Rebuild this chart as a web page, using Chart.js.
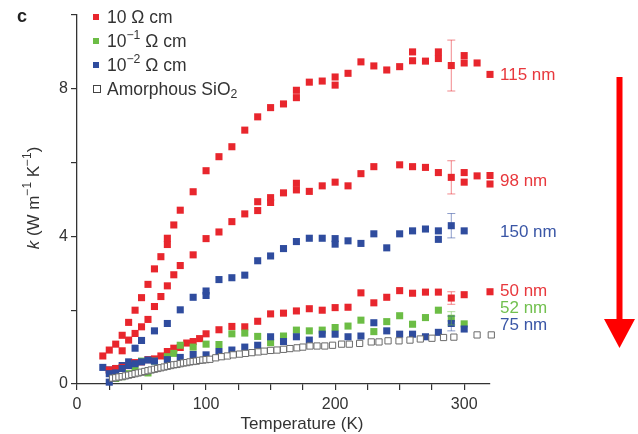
<!DOCTYPE html>
<html>
<head>
<meta charset="utf-8">
<script src="https://cdn.jsdelivr.net/npm/chart.js@4.4.0/dist/chart.umd.min.js"></script>
<style>
  html, body { margin: 0; background: #fff; }
</style>
</head>
<body>
<canvas id="chart" width="638" height="434"></canvas>
<script>
// thermal conductivity vs temperature, one array pair per sample
const temps115 = [20, 25, 30, 35, 40, 45, 50, 55, 60, 65, 70, 70, 75, 80, 90, 100, 110, 120, 130, 140, 150, 160, 170, 170, 180, 190, 200, 200, 210, 220, 230, 240, 250, 260, 260, 270, 280, 280, 290, 300, 300, 310, 320];
const k115 = [0.76, 0.92, 1.08, 1.32, 1.67, 2.0, 2.34, 2.7, 3.12, 3.45, 3.78, 3.95, 4.31, 4.71, 5.21, 5.78, 6.16, 6.43, 6.88, 7.24, 7.49, 7.59, 7.76, 7.96, 8.18, 8.21, 8.1, 8.32, 8.42, 8.73, 8.62, 8.51, 8.6, 8.76, 9.0, 8.75, 8.82, 9.0, 8.63, 8.7, 8.9, 8.7, 8.39];

const temps98 = [35, 40, 45, 50, 55, 60, 65, 70, 75, 80, 90, 100, 110, 120, 130, 140, 140, 150, 150, 160, 170, 170, 180, 190, 200, 210, 220, 230, 250, 260, 270, 280, 290, 300, 300, 310, 320, 320];
const k98 = [0.9, 1.19, 1.37, 1.55, 1.75, 2.1, 2.37, 2.66, 2.96, 3.21, 3.5, 3.94, 4.12, 4.4, 4.61, 4.7, 4.94, 4.92, 5.05, 5.18, 5.26, 5.44, 5.22, 5.37, 5.47, 5.37, 5.7, 5.89, 5.94, 5.89, 5.87, 5.73, 5.6, 5.73, 5.47, 5.64, 5.42, 5.65];

const temps150 = [20, 25, 30, 35, 40, 45, 50, 60, 70, 80, 90, 100, 100, 110, 120, 130, 140, 150, 160, 170, 180, 190, 200, 200, 210, 220, 230, 240, 250, 260, 270, 280, 280, 290, 300];
const k150 = [0.45, 0.38, 0.42, 0.5, 0.6, 0.97, 1.18, 1.44, 1.64, 2.01, 2.35, 2.4, 2.52, 2.83, 2.88, 2.95, 3.34, 3.47, 3.67, 3.86, 3.95, 3.95, 3.79, 3.94, 3.88, 3.81, 4.07, 3.69, 4.07, 4.15, 4.2, 4.15, 3.92, 4.29, 4.15];

const temps50 = [25, 30, 35, 40, 45, 50, 55, 60, 65, 70, 75, 80, 85, 90, 95, 100, 110, 120, 130, 140, 150, 160, 170, 180, 190, 200, 210, 220, 230, 240, 250, 260, 270, 280, 290, 300, 320];
const k50 = [0.38, 0.42, 0.45, 0.5, 0.58, 0.6, 0.66, 0.68, 0.76, 0.88, 0.97, 0.99, 1.11, 1.15, 1.23, 1.36, 1.47, 1.56, 1.55, 1.7, 1.9, 1.92, 1.98, 2.04, 2.0, 2.07, 2.08, 2.47, 2.2, 2.35, 2.53, 2.46, 2.49, 2.49, 2.33, 2.42, 2.5];

const temps52 = [30, 35, 40, 45, 50, 55, 60, 70, 75, 80, 90, 100, 110, 120, 130, 140, 150, 160, 170, 180, 190, 200, 210, 220, 230, 240, 250, 260, 270, 280, 290, 300];
const k52 = [0.15, 0.2, 0.28, 0.38, 0.62, 0.3, 0.62, 0.74, 0.83, 1.05, 1.0, 1.08, 1.07, 1.36, 1.38, 1.29, 1.12, 1.3, 1.46, 1.44, 1.46, 1.53, 1.57, 1.73, 1.42, 1.69, 1.85, 1.62, 1.8, 2.0, 1.78, 1.63];

const temps75 = [25, 25, 30, 35, 40, 45, 50, 55, 60, 70, 80, 90, 100, 110, 120, 130, 140, 150, 160, 170, 180, 190, 200, 210, 220, 230, 240, 250, 260, 270, 280, 290, 300];
const k75 = [0.05, 0.28, 0.3, 0.42, 0.5, 0.55, 0.6, 0.65, 0.62, 0.66, 0.72, 0.8, 0.79, 0.88, 0.92, 1.0, 1.05, 1.28, 1.15, 1.28, 1.19, 1.35, 1.35, 1.28, 1.3, 1.66, 1.44, 1.35, 1.35, 1.28, 1.4, 1.64, 1.49];

const tempsSiO2 = [27.5, 30, 32.5, 35, 37.5, 40, 42.5, 45, 47.5, 50, 52.5, 55, 57.5, 60, 62.5, 65, 67.5, 70, 72.5, 75, 77.5, 80, 82.5, 85, 87.5, 90, 92.5, 95, 97.5, 100,
  103, 107.5, 112, 116.5, 121, 126, 130.5, 135.5, 140.5, 145, 150, 155, 160, 165, 170.5, 175, 180.5, 186, 192, 198, 205, 211, 219, 228, 234, 241, 249.5, 258, 266, 275, 284, 292, 310, 321];
const kSiO2 = [0.16, 0.17, 0.19, 0.2, 0.22, 0.24, 0.26, 0.28, 0.3, 0.32, 0.34, 0.36, 0.38, 0.4, 0.42, 0.44, 0.46, 0.48, 0.5, 0.52, 0.53, 0.55, 0.57, 0.58, 0.6, 0.61, 0.62, 0.64, 0.65, 0.66,
  0.67, 0.71, 0.74, 0.76, 0.79, 0.81, 0.83, 0.85, 0.87, 0.89, 0.91, 0.92, 0.94, 0.96, 0.98, 1.0, 1.03, 1.03, 1.03, 1.05, 1.08, 1.08, 1.1, 1.14, 1.14, 1.17, 1.17, 1.19, 1.22, 1.24, 1.26, 1.27, 1.33, 1.33];

// error bars at 290 K
const errTemp = 290;
const err115 = 0.69, err98 = 0.45, err150 = 0.33, err50 = 0.17, err52 = 0.18, err75 = 0.2;

const sizeLabels = ['115 nm', '98 nm', '150 nm', '50 nm', '52 nm', '75 nm'];

const RED = '#e8262d', GREEN = '#6cbd45', BLUE = '#2f4c9e';
const FONT = '"Liberation Sans", Arial, Helvetica, sans-serif';
const INK = '#333';

const pts = (xs, ys) => xs.map((x, i) => ({ x, y: ys[i] }));

function series(label, xs, ys, color, err) {
  return {
    label, data: pts(xs, ys), err, clip: false,
    pointStyle: 'rect', pointRadius: 5, pointHoverRadius: 5,
    backgroundColor: color, borderColor: color, borderWidth: 0,
    showLine: false
  };
}

const datasets = [
  {
    label: 'Amorphous SiO2', data: pts(tempsSiO2, kSiO2), clip: false,
    pointStyle: 'rect', pointRadius: 4.4, pointHoverRadius: 4.4,
    backgroundColor: '#fff', borderColor: '#6a6a6a', borderWidth: 1, showLine: false
  },
  series('75 nm', temps75, k75, BLUE, err75),
  series('52 nm', temps52, k52, GREEN, err52),
  series('50 nm', temps50, k50, RED, err50),
  series('150 nm', temps150, k150, BLUE, err150),
  series('98 nm', temps98, k98, RED, err98),
  series('115 nm', temps115, k115, RED, err115)
];

function richWidth(ctx, parts, size) {
  let w = 0;
  for (const p of parts) {
    const fs = (p.sup || p.sub) ? size * 0.7 : size;
    ctx.font = (p.it ? 'italic ' : '') + fs + 'px ' + FONT;
    w += ctx.measureText(p.t).width;
  }
  return w;
}

function drawRich(ctx, parts, x, y, size) {
  let cx = x;
  for (const p of parts) {
    const fs = (p.sup || p.sub) ? size * 0.7 : size;
    ctx.font = (p.it ? 'italic ' : '') + fs + 'px ' + FONT;
    const dy = p.sup ? -size * 0.36 : p.sub ? size * 0.28 : 0;
    ctx.fillText(p.t, cx, y + dy);
    cx += ctx.measureText(p.t).width;
  }
}

const errorBars = {
  id: 'errorBars',
  afterDatasetsDraw(chart) {
    const { ctx, scales: { x, y } } = chart;
    chart.data.datasets.forEach(ds => {
      if (!ds.err) return;
      const p = ds.data.find(d => d.x === errTemp);
      if (!p) return;
      const px = x.getPixelForValue(p.x);
      const top = y.getPixelForValue(p.y + ds.err);
      const bot = y.getPixelForValue(p.y - ds.err);
      ctx.save();
      ctx.strokeStyle = ds.borderColor;
      ctx.globalAlpha = 0.55;
      ctx.lineWidth = 1;
      ctx.beginPath();
      ctx.moveTo(px, top); ctx.lineTo(px, bot);
      ctx.moveTo(px - 4, top); ctx.lineTo(px + 4, top);
      ctx.moveTo(px - 4, bot); ctx.lineTo(px + 4, bot);
      ctx.stroke();
      ctx.restore();
    });
  }
};

const decorations = {
  id: 'decorations',
  afterDraw(chart) {
    const { ctx, chartArea, scales: { y } } = chart;
    ctx.save();
    ctx.textBaseline = 'middle';

    // panel letter
    ctx.fillStyle = '#222';
    ctx.font = 'bold 18px ' + FONT;
    ctx.fillText('c', 17, 17);

    // legend
    const rows = [
      { parts: [{ t: '10 Ω cm' }], fill: RED },
      { parts: [{ t: '10' }, { t: '−1', sup: true }, { t: ' Ω cm' }], fill: GREEN },
      { parts: [{ t: '10' }, { t: '−2', sup: true }, { t: ' Ω cm' }], fill: BLUE },
      { parts: [{ t: 'Amorphous SiO' }, { t: '2', sub: true }], fill: null }
    ];
    rows.forEach((r, i) => {
      const cy = 17 + i * 24;
      if (r.fill) {
        ctx.fillStyle = r.fill;
        ctx.fillRect(93, cy - 3, 6, 6);
      } else {
        ctx.strokeStyle = '#444';
        ctx.lineWidth = 1;
        ctx.strokeRect(93.5, cy - 3.5, 7, 7);
      }
      ctx.fillStyle = INK;
      drawRich(ctx, r.parts, 107, cy + 1, 17.5);
    });

    // axis titles
    ctx.fillStyle = INK;
    ctx.font = '17px ' + FONT;
    ctx.textAlign = 'center';
    ctx.fillText('Temperature (K)', 302, 424);
    ctx.textAlign = 'left';

    const yt = [{ t: 'k', it: true }, { t: ' (W m' }, { t: '−1', sup: true }, { t: ' K' }, { t: '−1', sup: true }, { t: ')' }];
    const w = richWidth(ctx, yt, 17);
    ctx.save();
    ctx.translate(34, 198);
    ctx.rotate(-Math.PI / 2);
    drawRich(ctx, yt, -w / 2, 0, 17);
    ctx.restore();

    // sample thickness labels
    const labelK = [8.4, 5.53, 4.15, 2.55, 2.09, 1.63];
    const labelColor = ['#e8383d', '#e8383d', '#3a56a6', '#e8383d', '#72c04f', '#3a56a6'];
    ctx.font = '17px ' + FONT;
    sizeLabels.forEach((t, i) => {
      ctx.fillStyle = labelColor[i];
      ctx.fillText(t, chartArea.right + 10, y.getPixelForValue(labelK[i]) + 1);
    });

    // trend arrow
    ctx.fillStyle = '#ff0000';
    ctx.fillRect(616.5, 77, 6, 244);
    ctx.beginPath();
    ctx.moveTo(604, 319);
    ctx.lineTo(635, 319);
    ctx.lineTo(619.5, 348);
    ctx.closePath();
    ctx.fill();
    ctx.restore();
  }
};

new Chart(document.getElementById('chart'), {
  type: 'scatter',
  data: { datasets },
  options: {
    responsive: false,
    animation: false,
    devicePixelRatio: 1,
    layout: { padding: { left: 0, right: 148, top: 15, bottom: 0 } },
    plugins: { legend: { display: false }, tooltip: { enabled: false } },
    scales: {
      x: {
        type: 'linear', min: 0, max: 320,
        afterFit: s => { s.height = 50; },
        ticks: {
          stepSize: 25, autoSkip: false, maxRotation: 0, padding: 5, includeBounds: false,
          callback: v => (v % 100 === 0 ? v : ''),
          font: { family: FONT, size: 16 }, color: INK
        },
        grid: { drawOnChartArea: false, tickLength: 6, color: INK, lineWidth: 1.2 },
        border: { color: INK, width: 1.3 }
      },
      y: {
        min: 0, max: 10,
        afterFit: s => { s.width = 77; },
        ticks: {
          stepSize: 2, autoSkip: false, padding: 3,
          callback: v => (v % 4 === 0 ? v : ''),
          font: { family: FONT, size: 16 }, color: INK
        },
        grid: { drawOnChartArea: false, tickLength: 6, color: INK, lineWidth: 1.2 },
        border: { color: INK, width: 1.3 }
      }
    }
  },
  plugins: [errorBars, decorations]
});
</script>
</body>
</html>
